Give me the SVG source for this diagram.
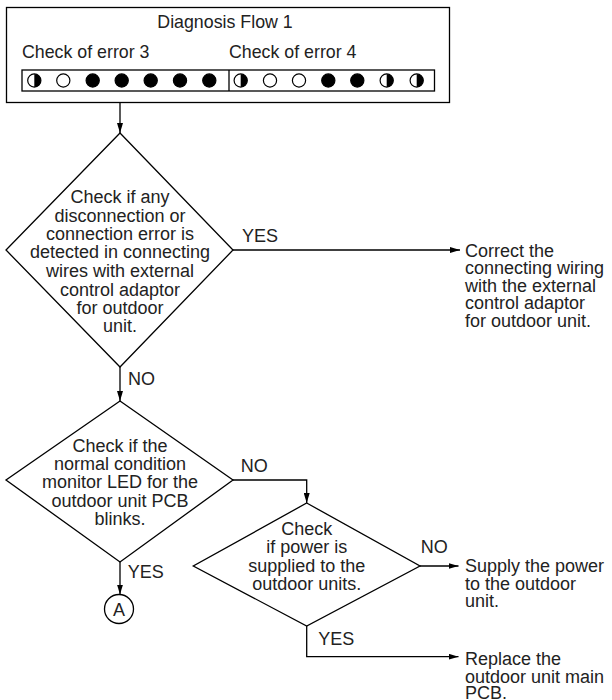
<svg xmlns="http://www.w3.org/2000/svg" width="612" height="700" viewBox="0 0 612 700">
<defs>
<style>
text{font-family:"Liberation Sans",Arial,sans-serif;font-size:18px;fill:#222}
.c{text-anchor:middle}
.h{font-size:17.8px}
.s{fill:none;stroke:#000;stroke-width:1.3}
.led{stroke:#000;stroke-width:1.2}
</style>
<marker id="ar" viewBox="0 0 10 6" refX="10" refY="3" markerWidth="10" markerHeight="6" markerUnits="userSpaceOnUse" orient="auto"><path d="M0,0L10,3L0,6z" fill="#000"/></marker>
<g id="half"><circle r="6.6" fill="#fff" class="led"/><path d="M0,-6.6A6.6,6.6 0 0 1 0,6.6z" fill="#000"/></g>
<g id="empty"><circle r="6.6" fill="#fff" class="led"/></g>
<g id="full"><circle r="6.6" fill="#000" class="led"/></g>
</defs>
<rect width="612" height="700" fill="#fff"/>
<g id="header">
<rect x="6.5" y="7.5" width="443" height="95" class="s"/>
<text x="225" y="28" class="c h">Diagnosis Flow 1</text>
<text x="22" y="58" class="h">Check of error 3</text>
<text x="229" y="58" class="h">Check of error 4</text>
<rect x="22" y="70" width="412.5" height="21" class="s"/>
<line x1="229" y1="70" x2="229" y2="91" class="s"/>
<use href="#half" x="34.3" y="80.5"/>
<use href="#empty" x="63.3" y="80.5"/>
<use href="#full" x="92.7" y="80.5"/>
<use href="#full" x="121.7" y="80.5"/>
<use href="#full" x="150.7" y="80.5"/>
<use href="#full" x="180" y="80.5"/>
<use href="#full" x="209.3" y="80.5"/>
<use href="#half" x="240.7" y="80.5"/>
<use href="#empty" x="270" y="80.5"/>
<use href="#empty" x="299" y="80.5"/>
<use href="#full" x="328.3" y="80.5"/>
<use href="#full" x="357.3" y="80.5"/>
<use href="#half" x="386.7" y="80.5"/>
<use href="#half" x="416.7" y="80.5"/>
</g>
<g id="d1">
<polygon points="120,133 233,250 120,367 6,250" class="s"/>
<text class="c" x="120" y="203.3">Check if any</text>
<text class="c" x="120" y="221.7">disconnection or</text>
<text class="c" x="120" y="240">connection error is</text>
<text class="c" x="120" y="258.3">detected in connecting</text>
<text class="c" x="120" y="276.7">wires with external</text>
<text class="c" x="120" y="295.5">control adaptor</text>
<text class="c" x="120" y="314">for outdoor</text>
<text class="c" x="120" y="332.3">unit.</text>
</g>
<g id="r1">
<text x="465" y="256.5">Correct the</text>
<text x="465" y="274">connecting wiring</text>
<text x="465" y="291.5">with the external</text>
<text x="465" y="309">control adaptor</text>
<text x="465" y="326.5">for outdoor unit.</text>
</g>
<g id="d2">
<polygon points="120,401 233,480 120,562 6,480" class="s"/>
<text class="c" x="120" y="451.7">Check if the</text>
<text class="c" x="120" y="470">normal condition</text>
<text class="c" x="120" y="488.3">monitor LED for the</text>
<text class="c" x="120" y="507">outdoor unit PCB</text>
<text class="c" x="120" y="525">blinks.</text>
</g>
<g id="d3">
<polygon points="306.7,503 420,566 306.7,626 193.3,566" class="s"/>
<text class="c" x="306.7" y="535">Check</text>
<text class="c" x="306.7" y="553.3">if power is</text>
<text class="c" x="306.7" y="571.7">supplied to the</text>
<text class="c" x="306.7" y="590">outdoor units.</text>
</g>
<g id="r2">
<text x="465" y="571.7">Supply the power</text>
<text x="465" y="589.5">to the outdoor</text>
<text x="465" y="607">unit.</text>
</g>
<g id="r3">
<text x="465" y="665">Replace the</text>
<text x="465" y="682.5">outdoor unit main</text>
<text x="465" y="699">PCB.</text>
</g>
<g id="a">
<circle cx="119" cy="609" r="14.5" class="s"/>
<text class="c" x="119" y="615.5">A</text>
</g>
<g id="connectors">
<line x1="120" y1="102.5" x2="120" y2="133" class="s" marker-end="url(#ar)"/>
<line x1="233" y1="250" x2="460" y2="250" class="s" marker-end="url(#ar)"/>
<line x1="120" y1="367" x2="120" y2="401" class="s" marker-end="url(#ar)"/>
<polyline points="233,480 306.7,480 306.7,503" class="s" marker-end="url(#ar)"/>
<line x1="420" y1="566" x2="458.5" y2="566" class="s" marker-end="url(#ar)"/>
<line x1="120" y1="562" x2="120" y2="594.5" class="s" marker-end="url(#ar)"/>
<polyline points="306.7,626 306.7,656.7 458.5,656.7" class="s" marker-end="url(#ar)"/>
<text x="242" y="241.7">YES</text>
<text x="128" y="385">NO</text>
<text x="240.7" y="471.7">NO</text>
<text x="127.7" y="578.3">YES</text>
<text x="420.7" y="553.3">NO</text>
<text x="318.3" y="645">YES</text>
</g>
</svg>
